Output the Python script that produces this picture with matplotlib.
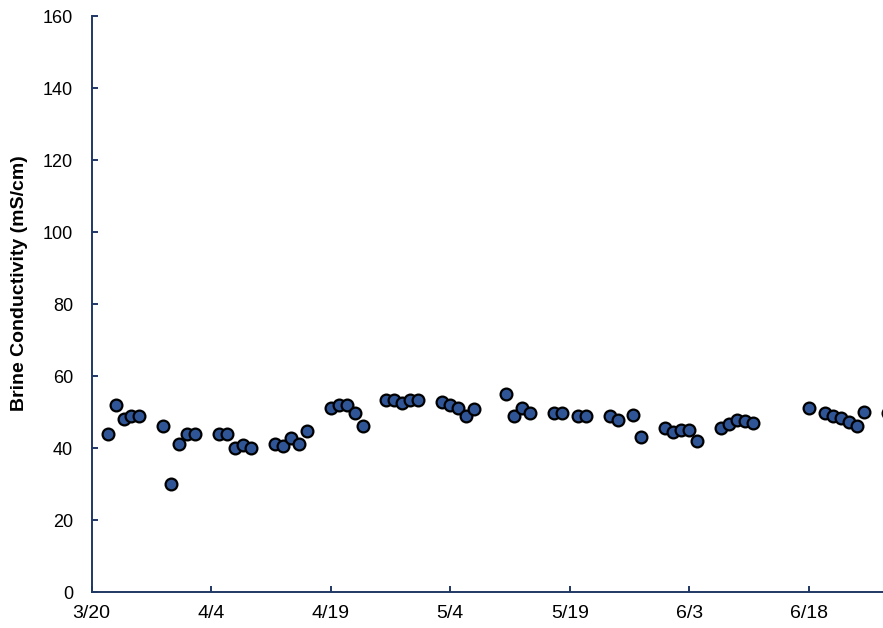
import numpy as np
import pandas as pd
import matplotlib
matplotlib.use("Agg")
import matplotlib.pyplot as plt

plt.rcParams['font.family'] = ['Liberation Sans', 'DejaVu Sans']

# sampling dates (m/d) and brine conductivity readings, mS/cm
dates = ["3/22", "3/23", "3/24", "3/25", "3/26", "3/29", "3/30", "3/31", "4/1", "4/2",
         "4/5", "4/6", "4/7", "4/8", "4/9", "4/12", "4/13", "4/14", "4/15", "4/16",
         "4/19", "4/20", "4/21", "4/22", "4/23", "4/26", "4/27", "4/28", "4/29", "4/30",
         "5/3", "5/4", "5/5", "5/6", "5/7", "5/11", "5/12", "5/13", "5/14", "5/17",
         "5/18", "5/20", "5/21", "5/24", "5/25", "5/27", "5/28", "5/31", "6/1", "6/2",
         "6/3", "6/4", "6/7", "6/8", "6/9", "6/10", "6/11", "6/18", "6/20", "6/21",
         "6/22", "6/23", "6/24", "6/25", "6/28"]
conductivity = [44, 52, 48, 49, 49, 46, 30, 41, 44, 44,
                44, 44, 40, 40.7, 40, 41, 40.5, 42.7, 41, 44.7,
                51, 52, 51.9, 49.8, 46, 53.4, 53.2, 52.4, 53.2, 53.2,
                52.8, 51.9, 51, 48.8, 50.9, 55, 49, 51.2, 49.8, 49.8,
                49.7, 49, 49, 49, 47.8, 49.2, 43, 45.6, 44.5, 45.1,
                45.1, 42, 45.5, 46.8, 47.8, 47.4, 47, 51.2, 49.7, 49,
                48.2, 47.3, 46.2, 50, 49.8]
tick_dates = ["3/20", "4/4", "4/19", "5/4", "5/19", "6/3", "6/18"]

def to_dt(labels):
    return pd.to_datetime(["2019/" + s for s in labels], format="%Y/%m/%d")

x = to_dt(dates)
ticks = to_dt(tick_dates)

navy = "#1F3864"

fig = plt.figure(figsize=(8.83, 6.28), dpi=100)
ax = fig.add_axes([0.1038, 0.0573, 0.9154, 0.9172])

ax.scatter(x, conductivity, s=72, facecolor="#2F5597", edgecolor="black",
           linewidth=1.6, zorder=3)

start = ticks[0]
ax.set_xlim(start, start + pd.Timedelta(days=101.45))
ax.set_ylim(0, 160)
ax.set_yticks(np.arange(0, 161, 20))
ax.set_xticks(ticks)
ax.set_xticklabels(tick_dates)

for side in ("top", "right"):
    ax.spines[side].set_visible(False)
for side in ("left", "bottom"):
    ax.spines[side].set_color(navy)
    ax.spines[side].set_linewidth(1.4)

ax.tick_params(axis="both", direction="in", length=4, width=1.4, color=navy,
               labelcolor="black")
ax.tick_params(axis="x", pad=9, labelsize=14)
ax.tick_params(axis="y", pad=13.5, labelsize=13)

ax.set_ylabel("Brine Conductivity (mS/cm)", fontsize=14, fontweight="bold")
ax.yaxis.set_label_coords(-0.079, 0.536)

fig.savefig("out.png", dpi=100)
